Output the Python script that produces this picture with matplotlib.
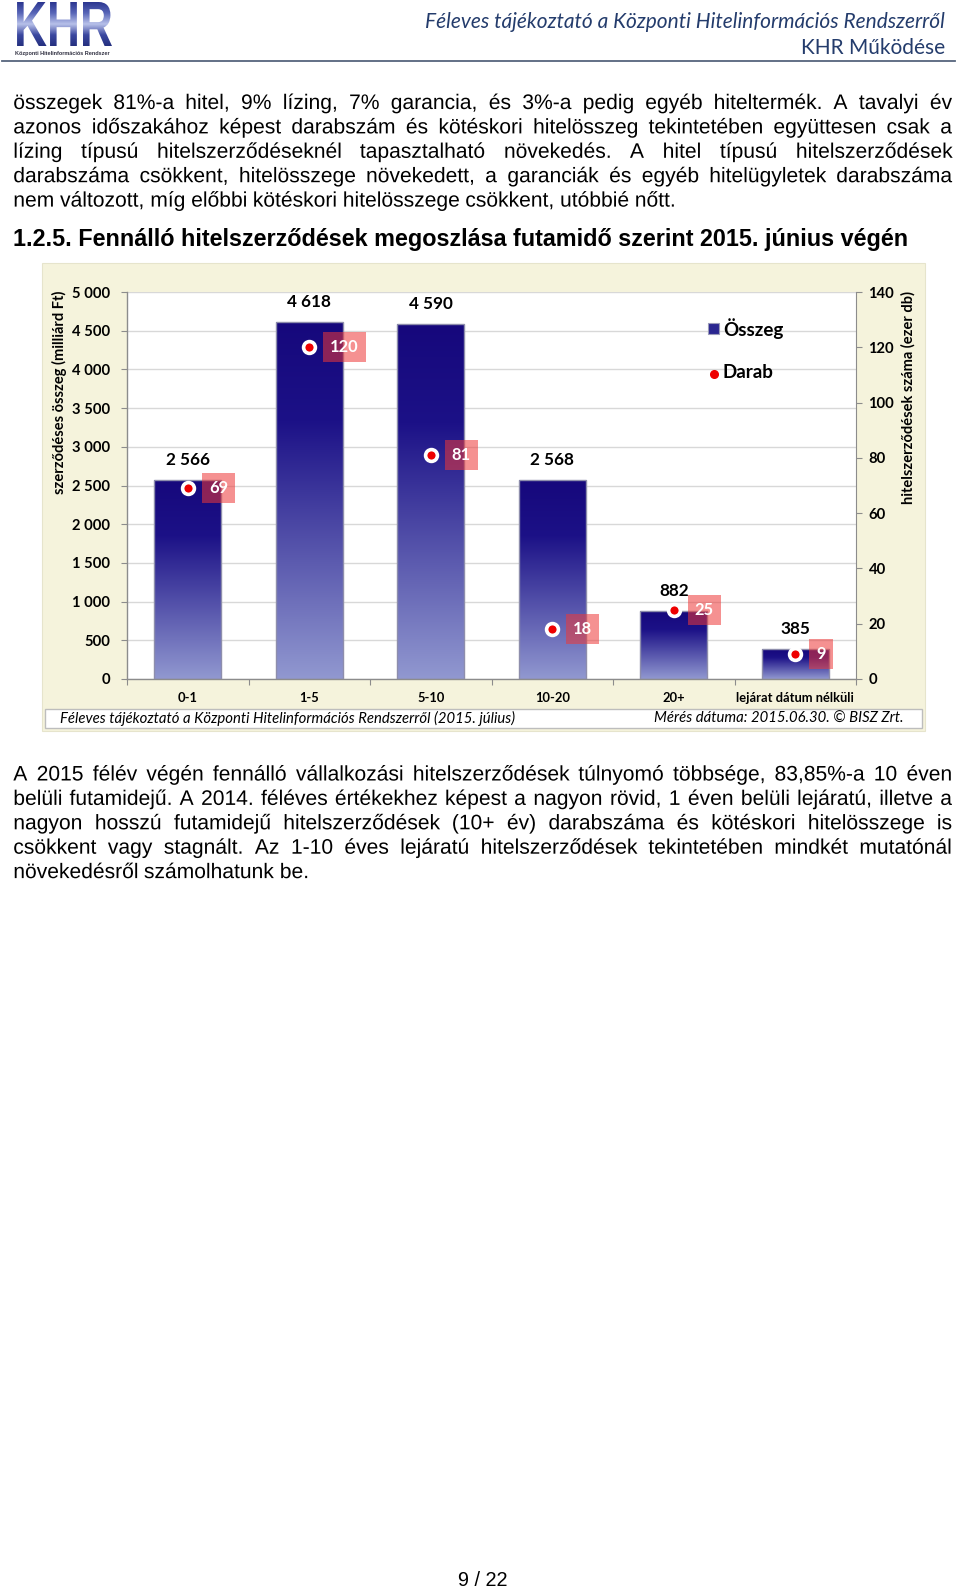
import numpy as np
import matplotlib
matplotlib.use('Agg')
import matplotlib.pyplot as plt
import matplotlib.patheffects as pe
from matplotlib.patches import Rectangle, PathPatch
from matplotlib.colors import LinearSegmentedColormap
from matplotlib.textpath import TextPath
from matplotlib.font_manager import FontProperties
from matplotlib.lines import Line2D

# ---------------- data ----------------
categories = ['0-1', '1-5', '5-10', '10-20', '20+', 'lejárat dátum nélküli']
osszeg = [2566, 4618, 4590, 2568, 882, 385]          # milliárd Ft
darab = [69, 120, 81, 18, 25, 9]                      # ezer db
left_ticks = [0, 500, 1000, 1500, 2000, 2500, 3000, 3500, 4000, 4500, 5000]
right_ticks = [0, 20, 40, 60, 80, 100, 120, 140]
series_names = ['Összeg', 'Darab']
left_label = 'szerződéses összeg (milliárd Ft)'
right_label = 'hitelszerződések száma (ezer db)'
source_left = 'Féleves tájékoztató a Központi Hitelinformációs Rendszerről (2015. július)'
source_right = 'Mérés dátuma: 2015.06.30. © BISZ Zrt.'

header1 = 'Féleves tájékoztató a Központi Hitelinformációs Rendszerről'
header2 = 'KHR Működése'
para1 = [
    'összegek 81%-a hitel, 9% lízing, 7% garancia, és 3%-a pedig egyéb hiteltermék. A tavalyi év',
    'azonos időszakához képest darabszám és kötéskori hitelösszeg tekintetében együttesen csak a',
    'lízing típusú hitelszerződéseknél tapasztalható növekedés. A hitel típusú hitelszerződések',
    'darabszáma csökkent, hitelösszege növekedett, a garanciák és egyéb hitelügyletek darabszáma',
    'nem változott, míg előbbi kötéskori hitelösszege csökkent, utóbbié nőtt.',
]
heading = '1.2.5. Fennálló hitelszerződések megoszlása futamidő szerint 2015. június végén'
para2 = [
    'A 2015 félév végén fennálló vállalkozási hitelszerződések túlnyomó többsége, 83,85%-a 10 éven',
    'belüli futamidejű. A 2014. féléves értékekhez képest a nagyon rövid, 1 éven belüli lejáratú, illetve a',
    'nagyon hosszú futamidejű hitelszerződések (10+ év) darabszáma és kötéskori hitelösszege is',
    'csökkent vagy stagnált. Az 1-10 éves lejáratú hitelszerződések tekintetében mindkét mutatónál',
    'növekedésről számolhatunk be.',
]
page_no = '9 / 22'

# ---------------- figure ----------------
W, H = 960, 1589
fig = plt.figure(figsize=(W / 100, H / 100), dpi=100)
fig.patch.set_facecolor('white')
renderer = fig.canvas.get_renderer()

BODY = 'Liberation Sans'
CHART = ['Lato', 'DejaVu Sans']


def fx(x):
    return x / W


def fy(y):
    return 1 - y / H


def width_px(s, size, **kw):
    t = fig.text(0, 0, s, fontsize=size, **kw)
    w = t.get_window_extent(renderer).width
    t.remove()
    return w


def fit(s, target, **kw):
    return 10.0 * target / width_px(s, 10.0, **kw)


def draw_line(s, x0, x1, yb, size, justify, **kw):
    words = s.split(' ')
    widths = [width_px(w, size, **kw) for w in words]
    if justify and len(words) > 1:
        gap = (x1 - x0 - sum(widths)) / (len(words) - 1)
    else:
        gap = width_px('a a', size, **kw) - width_px('aa', size, **kw)
    x = x0
    for w, wd in zip(words, widths):
        # rendered through a path effect so every word shares an exact baseline
        fig.text(fx(x), fy(yb), w, fontsize=size, va='baseline', ha='left',
                 path_effects=[pe.Normal()], **kw)
        x += wd + gap


# ---------------- header ----------------
hs = fit(header1, 519, family=CHART, style='italic')
fig.text(fx(945), fy(21.5), header1, fontsize=hs, family=CHART, style='italic',
         color='#243c6c', ha='right', va='center')
fig.text(fx(945), fy(48), header2, fontsize=hs, family=CHART,
         color='#243c6c', ha='right', va='center')
fig.add_artist(Line2D([fx(2), fx(955)], [fy(61), fy(61)], transform=fig.transFigure,
                      color='#56657d', lw=1.3))

# logo
lax = fig.add_axes([fx(14), fy(46), 98 / W, 44 / H])
lax.set_axis_off()
tp = TextPath((0, 0), 'KHR', size=40,
              prop=FontProperties(family=['Liberation Sans Narrow', 'Liberation Sans'], weight='bold'))
v = tp.vertices
bx0, by0 = v[:, 0].min(), v[:, 1].min()
bx1, by1 = v[:, 0].max(), v[:, 1].max()
pp = PathPatch(tp, facecolor='none', edgecolor='none')
lax.add_patch(pp)
logo_cmap = LinearSegmentedColormap.from_list('logo', ['#2b3690', '#5866b8', '#b9c2ea', '#3b48a0', '#25307f'])
lim = lax.imshow(np.linspace(0, 1, 128).reshape(-1, 1), cmap=logo_cmap, origin='upper',
                 extent=[bx0, bx1, by0, by1], aspect='auto')
lim.set_clip_path(pp)
lax.set_xlim(bx0, bx1)
lax.set_ylim(by0, by1)
ls = fit('Központi Hitelinformációs Rendszer', 95, family=BODY, weight='bold')
fig.text(fx(15), fy(53), 'Központi Hitelinformációs Rendszer', fontsize=ls, family=BODY,
         weight='bold', color='#333344', ha='left', va='center')

# ---------------- body text ----------------
bs = 0.5 * (fit(para1[-1], 675, family=BODY) + fit(para2[-1], 292, family=BODY))
X0, X1 = 13.3, 952
for i, line in enumerate(para1):
    draw_line(line, X0, X1, 109 + i * 24.4, bs, i < len(para1) - 1, family=BODY, color='black')
hds = fit(heading, 899, family=BODY, weight='bold')
fig.text(fx(13), fy(246), heading, fontsize=hds, family=BODY, weight='bold',
         ha='left', va='baseline', color='black')
for i, line in enumerate(para2):
    draw_line(line, X0, X1, 780.5 + i * 24.4, bs, i < len(para2) - 1, family=BODY, color='black')

ps = fit(page_no, 50, family=['Liberation Sans Narrow', 'Liberation Sans'])
fig.text(fx(483), fy(1580), page_no, fontsize=ps, family=['Liberation Sans Narrow', 'Liberation Sans'],
         ha='center', va='center', color='black')

# ---------------- chart panel ----------------
fig.add_artist(Rectangle((fx(42), fy(731)), (925 - 42) / W, (731 - 263) / H,
                         transform=fig.transFigure, facecolor='#f5f3dc', edgecolor='#e6e4cc',
                         lw=0.8, zorder=0))
fig.add_artist(Rectangle((fx(45), fy(728)), (922 - 45) / W, (728 - 709) / H,
                         transform=fig.transFigure, facecolor='white', edgecolor='#bdbdbd',
                         lw=1.0, zorder=1))
fs_src = fit(source_left, 457, family=CHART, style='italic')
fig.text(fx(60), fy(718.5), source_left, fontsize=fs_src, family=CHART, style='italic',
         ha='left', va='center', color='black', zorder=2)
fig.text(fx(904), fy(718.5), source_right, fontsize=fs_src, family=CHART, style='italic',
         ha='right', va='center', color='black', zorder=2)

ax = fig.add_axes([fx(127), fy(679), (856 - 127) / W, (679 - 292) / H])
ax.set_facecolor('white')
ax.set_zorder(2)
x = np.arange(len(categories))
bars = ax.bar(x, osszeg, width=0.55, facecolor='none', edgecolor='#8e8eac',
              linewidth=1.0, zorder=3)
bar_cmap = LinearSegmentedColormap.from_list('bar', [(0, '#16087c'), (0.28, '#1c1187'), (1, '#9198d0')])
grad = np.linspace(1, 0, 256).reshape(-1, 1)
for b in bars:
    bx = b.get_x()
    bw = b.get_width()
    bh = b.get_height()
    im = ax.imshow(grad, cmap=bar_cmap, vmin=0, vmax=1, origin='lower',
                   extent=[bx, bx + bw, 0, bh], aspect='auto', zorder=2.5, interpolation='bilinear')
    im.set_clip_path(b)

ax.set_xlim(-0.5, len(categories) - 0.5)
ax.set_ylim(left_ticks[0], left_ticks[-1])
ax.set_yticks(left_ticks)
tick_fs = fit('5 000', 38, family=CHART, weight='bold')
ax.set_yticklabels([f'{t:,}'.replace(',', ' ') for t in left_ticks], fontsize=tick_fs,
                   fontweight='bold', family=CHART)
ax.yaxis.grid(True, color='#d8d8d8', lw=1.0)
ax.set_axisbelow(True)
ax.set_xticks(np.arange(-0.5, len(categories), 1))
ax.set_xticklabels([])
ax.set_xticks(x, minor=True)
cat_fs = fit(categories[-1], 118, family=CHART, weight='bold')
ax.set_xticklabels(categories, minor=True, fontsize=cat_fs, fontweight='bold', family=CHART)
ax.tick_params(axis='x', which='major', length=4, color='#8c8c8c', direction='out')
ax.tick_params(axis='x', which='minor', length=0, pad=9)
ax.tick_params(axis='y', length=4, color='#8c8c8c', direction='out', pad=8)
for s in ['top', 'right']:
    ax.spines[s].set_visible(False)
for s in ['left', 'bottom']:
    ax.spines[s].set_color('#8c8c8c')
    ax.spines[s].set_linewidth(1.0)

val_fs = fit('4 618', 44, family=CHART, weight='bold')
for i, v_ in enumerate(osszeg):
    ax.annotate(f'{v_:,}'.replace(',', ' '), (x[i], v_), xytext=(0, 20), textcoords='offset pixels',
                ha='center', va='center', fontsize=val_fs, fontweight='bold', family=CHART,
                color='black', zorder=6)

ax2 = ax.twinx()
ax2.set_ylim(right_ticks[0], right_ticks[-1])
ax2.set_yticks(right_ticks)
ax2.set_yticklabels([str(t) for t in right_ticks], fontsize=tick_fs, fontweight='bold', family=CHART)
ax2.tick_params(axis='y', length=4, color='#8c8c8c', direction='out', pad=5)
for s in ['top', 'left', 'bottom']:
    ax2.spines[s].set_visible(False)
ax2.spines['right'].set_color('#8c8c8c')
ax2.plot(x, darab, linestyle='none', marker='o', ms=8.5, mfc='#ee0000', mec='white', mew=2.6, zorder=5)
lab_fs = tick_fs * 1.12
for i, d in enumerate(darab):
    ax2.annotate(str(d), (x[i], d), xytext=(21, 0), textcoords='offset pixels',
                 ha='left', va='center', fontsize=lab_fs, fontweight='bold', family=CHART,
                 color='white', zorder=6,
                 bbox=dict(boxstyle='square,pad=0.42', facecolor=(0.93, 0.22, 0.22),
                           alpha=0.55, edgecolor='none'))

# axis titles
yl_fs = fit(left_label, 202, family=CHART, weight='bold')
fig.text(fx(59), fy(392), left_label, rotation=90, ha='center', va='center',
         fontsize=yl_fs, fontweight='bold', family=CHART, zorder=3)
fig.text(fx(908), fy(398), right_label, rotation=90, ha='center', va='center',
         fontsize=yl_fs, fontweight='bold', family=CHART, zorder=3)

# legend
leg_fs = fit(series_names[0], 60, family=CHART, weight='bold')
fig.add_artist(Rectangle((fx(707.5), fy(334)), 11.5 / W, 11 / H, transform=fig.transFigure,
                         facecolor='#2a2690', edgecolor='#9a9ab8', lw=0.8, zorder=5))
fig.text(fx(723), fy(328.5), series_names[0], fontsize=leg_fs, fontweight='bold', family=CHART,
         ha='left', va='center', zorder=5)
fig.add_artist(Line2D([fx(713.5)], [fy(374)], transform=fig.transFigure, marker='o',
                      ms=5.5, mfc='#ee0000', mec='#ee0000', linestyle='none', zorder=5))
fig.text(fx(723), fy(373), series_names[1], fontsize=leg_fs, fontweight='bold', family=CHART,
         ha='left', va='center', zorder=5)

fig.savefig('out.png', dpi=100, facecolor='white')
